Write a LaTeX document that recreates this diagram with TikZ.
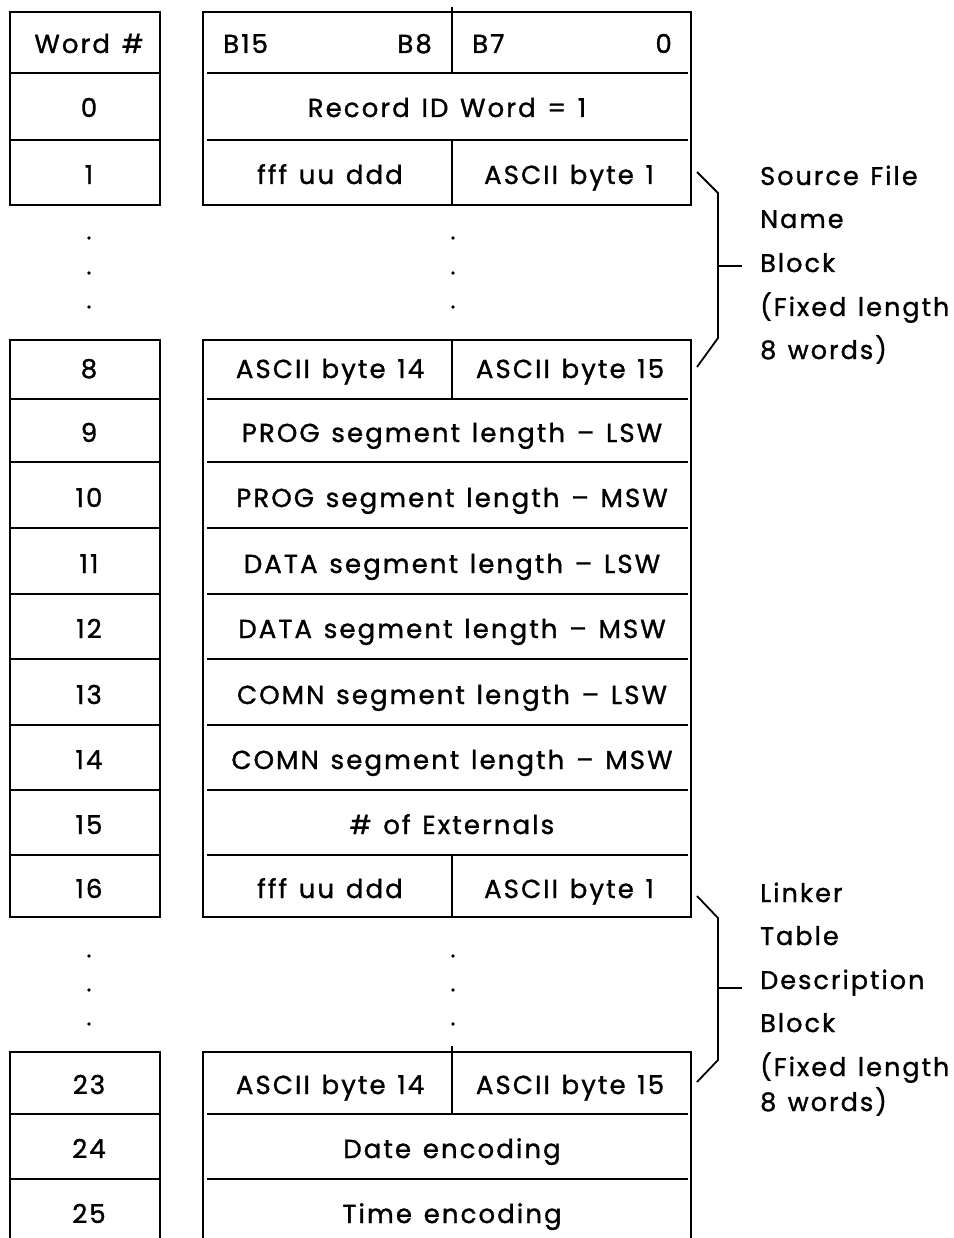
\documentclass[tikz,border=0pt]{standalone}
\usepackage{fontspec}
\setmainfont[LetterSpace=8,WordSpace=1.3,FakeBold=1.2]{Poppins}
\begin{document}
\begin{tikzpicture}[x=1pt,y=-1pt,line width=2.4pt,
  cell/.style={inner sep=0pt,anchor=base,yshift=-9pt,font=\fontsize{26}{30}\selectfont},
  note/.style={inner sep=0pt,anchor=base west,yshift=-9pt,font=\fontsize{25.5}{30}\selectfont},
  brace/.style={line width=1.8pt},
  dotmark/.style={circle,fill,inner sep=0pt,minimum size=3.6pt}]
\useasboundingbox (0,0) rectangle (953,1238);
\clip (0,0) rectangle (953,1238);
% ---------- block 1 ----------
\draw (10,12) rectangle (160,205);
\foreach \y in {73,140} \draw (11,\y) -- (159,\y);
\draw (203,12) rectangle (691,205);
\foreach \y in {73,140} \draw (207,\y) -- (688,\y);
\draw (452,7) -- (452,73);
\draw (452,140) -- (452,205);
\node[cell] (w) at (89,44) {Word \#};
\node[cell] (w0) at (89,108) {0};
\node[cell] (w1) at (89,175) {1};
\node[cell,anchor=base west] (b15) at (222,44) {B15};
\node[cell,anchor=base east] (b8) at (433,44) {B8};
\node[cell,anchor=base west] (b7) at (471,44) {B7};
\node[cell,anchor=base east] (b0) at (673,44) {0};
\node[cell] (rid) at (447,108) {Record ID Word = 1};
\node[cell] (f1) at (330,175) {fff uu ddd};
\node[cell] (a1) at (569,175) {ASCII byte 1};
% dots
\foreach \y [count=\i] in {238,273,307} {
  \node[dotmark] (dl\i) at (89,\y) {};
  \node[dotmark] (dr\i) at (453,\y) {};
}
% ---------- block 2 ----------
\draw (10,340) rectangle (160,917);
\foreach \y in {399,462,528,594,659,725,790,855} \draw (11,\y) -- (159,\y);
\draw (203,340) rectangle (691,917);
\foreach \y in {399,462,528,594,659,725,790,855} \draw (207,\y) -- (688,\y);
\draw (452,340) -- (452,399);
\draw (452,855) -- (452,917);
\node[cell] (w8) at (89,369) {8};
\node[cell] (w9) at (89,433) {9};
\node[cell] (w10) at (89,498) {10};
\node[cell] (w11) at (89,564) {11};
\node[cell] (w12) at (89,629) {12};
\node[cell] (w13) at (89,695) {13};
\node[cell] (w14) at (89,760) {14};
\node[cell] (w15) at (89,825) {15};
\node[cell] (w16) at (89,889) {16};
\node[cell] (a14) at (330,369) {ASCII byte 14};
\node[cell] (a15) at (570,369) {ASCII byte 15};
\node[cell] (r9) at (452,433) {PROG segment length -- LSW};
\node[cell] (r10) at (452,498) {PROG segment length -- MSW};
\node[cell] (r11) at (452,564) {DATA segment length -- LSW};
\node[cell] (r12) at (452,629) {DATA segment length -- MSW};
\node[cell] (r13) at (452,695) {COMN segment length -- LSW};
\node[cell] (r14) at (452,760) {COMN segment length -- MSW};
\node[cell] (r15) at (452,825) {\# of Externals};
\node[cell] (f16) at (330,889) {fff uu ddd};
\node[cell] (a16) at (569,889) {ASCII byte 1};
\foreach \y [count=\i] in {956,990,1024} {
  \node[dotmark] (el\i) at (89,\y) {};
  \node[dotmark] (er\i) at (453,\y) {};
}
% ---------- block 3 ----------
\draw (10,1260) -- (10,1052) -- (160,1052) -- (160,1260);
\foreach \y in {1114,1179} \draw (11,\y) -- (159,\y);
\draw (203,1260) -- (203,1052) -- (691,1052) -- (691,1260);
\foreach \y in {1114,1179} \draw (207,\y) -- (688,\y);
\draw (452,1046) -- (452,1114);
\node[cell] (w23) at (89,1085) {23};
\node[cell] (w24) at (89,1149) {24};
\node[cell] (w25) at (89,1214) {25};
\node[cell] (c14) at (330,1085) {ASCII byte 14};
\node[cell] (c15) at (570,1085) {ASCII byte 15};
\node[cell] (date) at (452,1149) {Date encoding};
\node[cell] (time) at (452,1214) {Time encoding};
% ---------- brace 1 ----------
\coordinate (p1a) at (697,172);
\coordinate (p1b) at (718,193);
\coordinate (p1c) at (718,338);
\coordinate (p1d) at (697,367);
\coordinate (p1m) at (718,266);
\coordinate (p1t) at (742,266);
\draw[brace] (p1a) -- (p1b) -- (p1c) -- (p1d);
\draw[brace] (p1m) -- (p1t);
\node[note] (s1) at (759,176) {Source File};
\node[note] (s2) at (759,219) {Name};
\node[note] (s3) at (759,263) {Block};
\node[note] (s4) at (759,307) {(Fixed length};
\node[note] (s5) at (759,350) {8 words)};
% ---------- brace 2 ----------
\coordinate (p2a) at (697,896);
\coordinate (p2b) at (718,918);
\coordinate (p2c) at (718,1060);
\coordinate (p2d) at (697,1082);
\coordinate (p2m) at (718,988);
\coordinate (p2t) at (742,988);
\draw[brace] (p2a) -- (p2b) -- (p2c) -- (p2d);
\draw[brace] (p2m) -- (p2t);
\node[note] (t1) at (759,893) {Linker};
\node[note] (t2) at (759,936) {Table};
\node[note] (t3) at (759,980) {Description};
\node[note] (t4) at (759,1023) {Block};
\node[note] (t5) at (759,1067) {(Fixed length};
\node[note] (t6) at (759,1102) {8 words)};
\end{tikzpicture}
\end{document}
